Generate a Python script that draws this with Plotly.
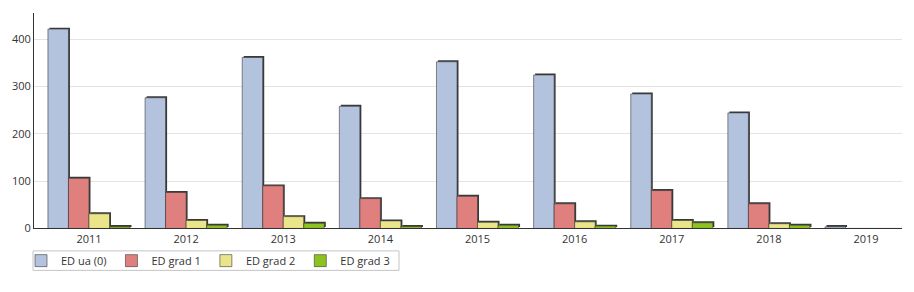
import plotly.graph_objects as go

years = ["2011", "2012", "2013", "2014", "2015", "2016", "2017", "2018", "2019"]
series_names = ["ED ua (0)", "ED grad 1", "ED grad 2", "ED grad 3"]
ed_ua0 = [421, 276, 361, 258, 352, 324, 284, 244, 3.5]
ed_grad1 = [106, 76, 90, 63, 68, 52, 80, 52, 0]
ed_grad2 = [31, 17, 25, 16, 13, 14, 17, 10, 0]
ed_grad3 = [3.5, 7, 11, 4, 7, 5, 12, 7, 0]
colors = ["#b3c3de", "#e0807e", "#ebe58a", "#8cc31e"]
y_ticks = [0, 100, 200, 300, 400]

all_series = [ed_ua0, ed_grad1, ed_grad2, ed_grad3]
xi = list(range(len(years)))

W, H = 914, 292
ml, mr, mt, mb = 34, 12, 13, 0
plot_bottom_px = 234
paper_h = H - mt - mb
paper_w = W - ml - mr
y_dom0 = (H - mb - plot_bottom_px) / paper_h

x_range = [-0.566, 8.37]
y_range = [0, 455]
plot_h = plot_bottom_px - mt
dx = 1.5 * (x_range[1] - x_range[0]) / paper_w
dy = 1.5 * (y_range[1] - y_range[0]) / plot_h

fig = go.Figure()
# shadows (base axes, shifted)
for name, vals in zip(series_names, all_series):
    fig.add_trace(go.Bar(x=xi, y=vals, name=name, marker_color="#3a3a3a",
                         marker_line_width=0, showlegend=False, hoverinfo="skip",
                         xaxis="x", yaxis="y"))
# bars (overlay axes, true)
for name, vals, c in zip(series_names, all_series, colors):
    fig.add_trace(go.Bar(x=xi, y=vals, name=name, marker_color=c,
                         marker_line=dict(color="#3a3a3a", width=0.6),
                         xaxis="x2", yaxis="y2"))


def px_x(p):
    return (p - ml) / paper_w


def px_y(p):
    return (H - mb - p) / paper_h


# legend frame
fig.add_shape(type="rect", xref="paper", yref="paper",
              x0=px_x(33), x1=px_x(399), y0=px_y(277), y1=px_y(257),
              line=dict(color="#c4c4c4", width=1), fillcolor="rgba(0,0,0,0)",
              layer="above")

fig.update_layout(
    width=W, height=H,
    margin=dict(l=ml, r=mr, t=mt, b=mb, pad=0),
    paper_bgcolor="white", plot_bgcolor="white",
    barmode="group", bargap=0.155, bargroupgap=0,
    font=dict(family="Open Sans, Noto Sans, sans-serif", size=11, color="#333333"),
    xaxis=dict(range=[x_range[0] - dx, x_range[1] - dx], visible=False),
    yaxis=dict(range=[y_range[0] - dy, y_range[1] - dy], visible=False,
               domain=[y_dom0, 1]),
    xaxis2=dict(range=x_range, overlaying="x", side="bottom", tickmode="array",
                tickvals=xi, ticktext=years, showgrid=False, showline=True,
                linecolor="#333333", linewidth=1, ticks="", zeroline=False,
                anchor="y2", tickfont=dict(size=11, color="#333333")),
    yaxis2=dict(range=y_range, overlaying="y", side="left", tickmode="array",
                tickvals=y_ticks, showgrid=True, gridcolor="#e3e3e3",
                showline=True, linecolor="#333333", linewidth=1, ticks="",
                zeroline=False, tickfont=dict(size=11, color="#333333")),
    legend=dict(orientation="h",
                x=px_x(21), xanchor="left",
                y=px_y(267), yanchor="middle",
                borderwidth=0, bgcolor="rgba(0,0,0,0)",
                font=dict(size=11, color="#333333"),
                itemwidth=30, tracegroupgap=0),
)

fig.write_html("out.html")
